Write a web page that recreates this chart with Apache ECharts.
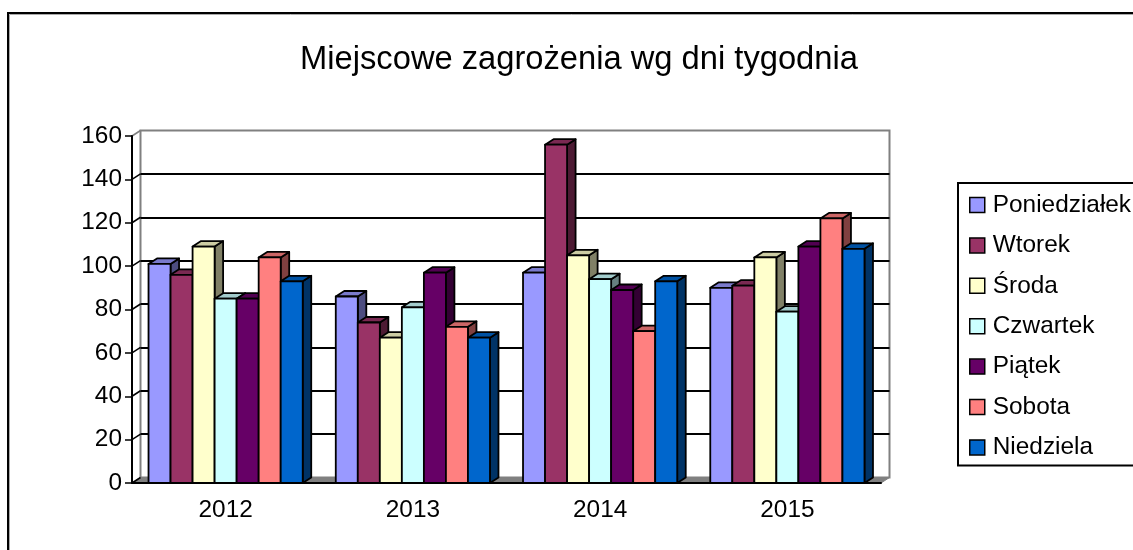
<!DOCTYPE html>
<html>
<head>
<meta charset="utf-8">
<style>
  html, body { margin: 0; padding: 0; background: #fff; }
  #chart { width: 1133px; height: 550px; }
</style>
<script src="https://cdn.jsdelivr.net/npm/echarts@6/dist/echarts.min.js"></script>
</head>
<body>
<div id="chart"></div>
<script>
const titleText = 'Miejscowe zagrożenia wg dni tygodnia';
const years = ['2012', '2013', '2014', '2015'];
const dayNames = ['Poniedziałek', 'Wtorek', 'Środa', 'Czwartek', 'Piątek', 'Sobota', 'Niedziela'];
const dayColors = ['#9999FF', '#993366', '#FFFFCC', '#CCFFFF', '#660066', '#FF8080', '#0066CC'];

const poniedzialek = [101, 86, 97, 90];
const wtorek = [96, 74, 156, 91];
const sroda = [109, 67, 105, 104];
const czwartek = [85, 81, 94, 79];
const piatek = [85, 97, 89, 109];
const sobota = [104, 72, 70, 122];
const niedziela = [93, 67, 93, 108];
const dayValues = [poniedzialek, wtorek, sroda, czwartek, piatek, sobota, niedziela];

const yTicks = [0, 20, 40, 60, 80, 100, 120, 140, 160];

// przesuniecie "glebi" wykresu 3D
const DEPTH_X = 8.5;
const DEPTH_Y = 5.5;
const FONT = '"Liberation Sans", Arial, sans-serif';

// przyciemnia kolor, gorna i boczna sciana slupka sa ciemniejsze
const shade = (hex, k) => {
  const n = parseInt(hex.slice(1), 16);
  const r = Math.round(((n >> 16) & 255) * k);
  const g = Math.round(((n >> 8) & 255) * k);
  const b = Math.round((n & 255) * k);
  return `rgb(${r},${g},${b})`;
};

const makeBarSeries = (name, dayIndex) => ({
  name,
  type: 'custom',
  xAxisIndex: 0,
  yAxisIndex: 0,
  itemStyle: { color: dayColors[dayIndex], borderColor: '#000', borderWidth: 1.5 },
  data: dayValues[dayIndex].map((v, i) => [i, v]),
  renderItem: (params, api) => {
    const top = api.coord([api.value(0), api.value(1)]);
    const base = api.coord([api.value(0), 0]);
    const band = api.size([1, 0])[0];
    const w = band / 8.5;
    const x0 = top[0] - 3.5 * w + dayIndex * w;
    const x1 = x0 + w;
    const yT = top[1];
    const yB = base[1];
    const edge = { stroke: '#000', lineWidth: 1.8, lineJoin: 'round' };
    const color = dayColors[dayIndex];
    return {
      type: 'group',
      children: [
        {
          type: 'polygon',
          shape: { points: [[x1, yT], [x1 + DEPTH_X, yT - DEPTH_Y], [x1 + DEPTH_X, yB - DEPTH_Y], [x1, yB]] },
          style: { fill: shade(color, 0.5), ...edge }
        },
        {
          type: 'polygon',
          shape: { points: [[x0, yT], [x0 + DEPTH_X, yT - DEPTH_Y], [x1 + DEPTH_X, yT - DEPTH_Y], [x1, yT]] },
          style: { fill: shade(color, 0.8), ...edge }
        },
        {
          type: 'rect',
          shape: { x: x0, y: yT, width: w, height: yB - yT },
          style: { fill: color, ...edge }
        }
      ]
    };
  }
});

// skosne linie siatki na lewej scianie i lewa krawedz
const sideWallSeries = {
  name: 'sciana',
  type: 'custom',
  xAxisIndex: 0,
  yAxisIndex: 0,
  silent: true,
  data: yTicks.map((v) => [0, v]),
  renderItem: (params, api) => {
    const x = params.coordSys.x;
    const y = api.coord([0, api.value(1)])[1];
    return {
      type: 'line',
      shape: { x1: x, y1: y, x2: x + DEPTH_X, y2: y - DEPTH_Y },
      style: { stroke: api.value(1) === 160 ? '#808080' : '#000', lineWidth: 1.5 }
    };
  }
};

const floorSeries = {
  name: 'podloga',
  type: 'custom',
  xAxisIndex: 0,
  yAxisIndex: 0,
  silent: true,
  data: [[0, 0]],
  renderItem: (params, api) => {
    const c = params.coordSys;
    const y = api.coord([0, 0])[1];
    return {
      type: 'polygon',
      shape: {
        points: [[c.x, y], [c.x + DEPTH_X, y - DEPTH_Y], [c.x + c.width + DEPTH_X, y - DEPTH_Y], [c.x + c.width, y]]
      },
      style: { fill: '#808080', stroke: '#808080', lineWidth: 1 }
    };
  }
};

const myChart = echarts.init(document.getElementById('chart'), null, { renderer: 'canvas' });

myChart.setOption({
  animation: false,
  backgroundColor: '#fff',
  title: {
    text: titleText,
    left: 574,
    top: 38,
    textAlign: 'center',
    textStyle: { fontFamily: FONT, fontSize: 32.7, fontWeight: 'normal', color: '#000' }
  },
  legend: {
    data: dayNames,
    orient: 'vertical',
    left: 958,
    top: 183,
    padding: [10, 16, 6, 11],
    itemWidth: 15,
    itemHeight: 15,
    itemGap: 16.4,
    icon: 'rect',
    selectedMode: false,
    borderColor: '#000',
    borderWidth: 2,
    backgroundColor: '#fff',
    itemStyle: { borderColor: '#000', borderWidth: 1.5 },
    textStyle: { fontFamily: FONT, fontSize: 24.4, color: '#000', padding: [0, 0, 0, 3] }
  },
  graphic: [
    { type: 'rect', silent: true, z: -1, shape: { x: 9.5, y: 14.5, width: 1200, height: 600 }, style: { fill: 'none', stroke: '#aaa', lineWidth: 1 } },
    { type: 'rect', silent: true, z: -1, shape: { x: 8, y: 13, width: 1200, height: 600 }, style: { fill: 'none', stroke: '#000', lineWidth: 2 } }
  ],
  grid: [
    { left: 132, top: 136, width: 749, height: 347 },
    // tylna sciana, przesunieta o glebie
    { left: 132 + DEPTH_X, top: 136 - DEPTH_Y, width: 749, height: 347, show: true, borderColor: '#808080', borderWidth: 2, backgroundColor: '#fff' }
  ],
  xAxis: [
    {
      type: 'category',
      gridIndex: 0,
      data: years,
      z: 5,
      axisLine: { lineStyle: { color: '#000', width: 2 } },
      axisTick: { length: 7, lineStyle: { color: '#000', width: 1.5 } },
      axisLabel: { color: '#000', fontFamily: FONT, fontSize: 24.4, margin: 15 }
    },
    { type: 'category', gridIndex: 1, data: years, axisLine: { show: false }, axisTick: { show: false }, axisLabel: { show: false } }
  ],
  yAxis: [
    {
      type: 'value',
      gridIndex: 0,
      min: yTicks[0],
      max: yTicks[yTicks.length - 1],
      interval: 20,
      z: 5,
      splitLine: { show: false },
      axisLine: { show: true, lineStyle: { color: '#000', width: 2 } },
      axisTick: { show: true, length: 7, lineStyle: { color: '#000', width: 1.5 } },
      axisLabel: { color: '#000', fontFamily: FONT, fontSize: 24.4, margin: 10 }
    },
    {
      type: 'value',
      gridIndex: 1,
      min: yTicks[0],
      max: yTicks[yTicks.length - 1],
      interval: 20,
      axisLine: { show: false },
      axisTick: { show: false },
      axisLabel: { show: false },
      splitLine: { show: true, showMaxLine: false, showMinLine: false, lineStyle: { color: '#000', width: 1.8 } }
    }
  ],
  series: [floorSeries, sideWallSeries].concat(dayNames.map((name, i) => makeBarSeries(name, i)))
});
</script>
</body>
</html>
